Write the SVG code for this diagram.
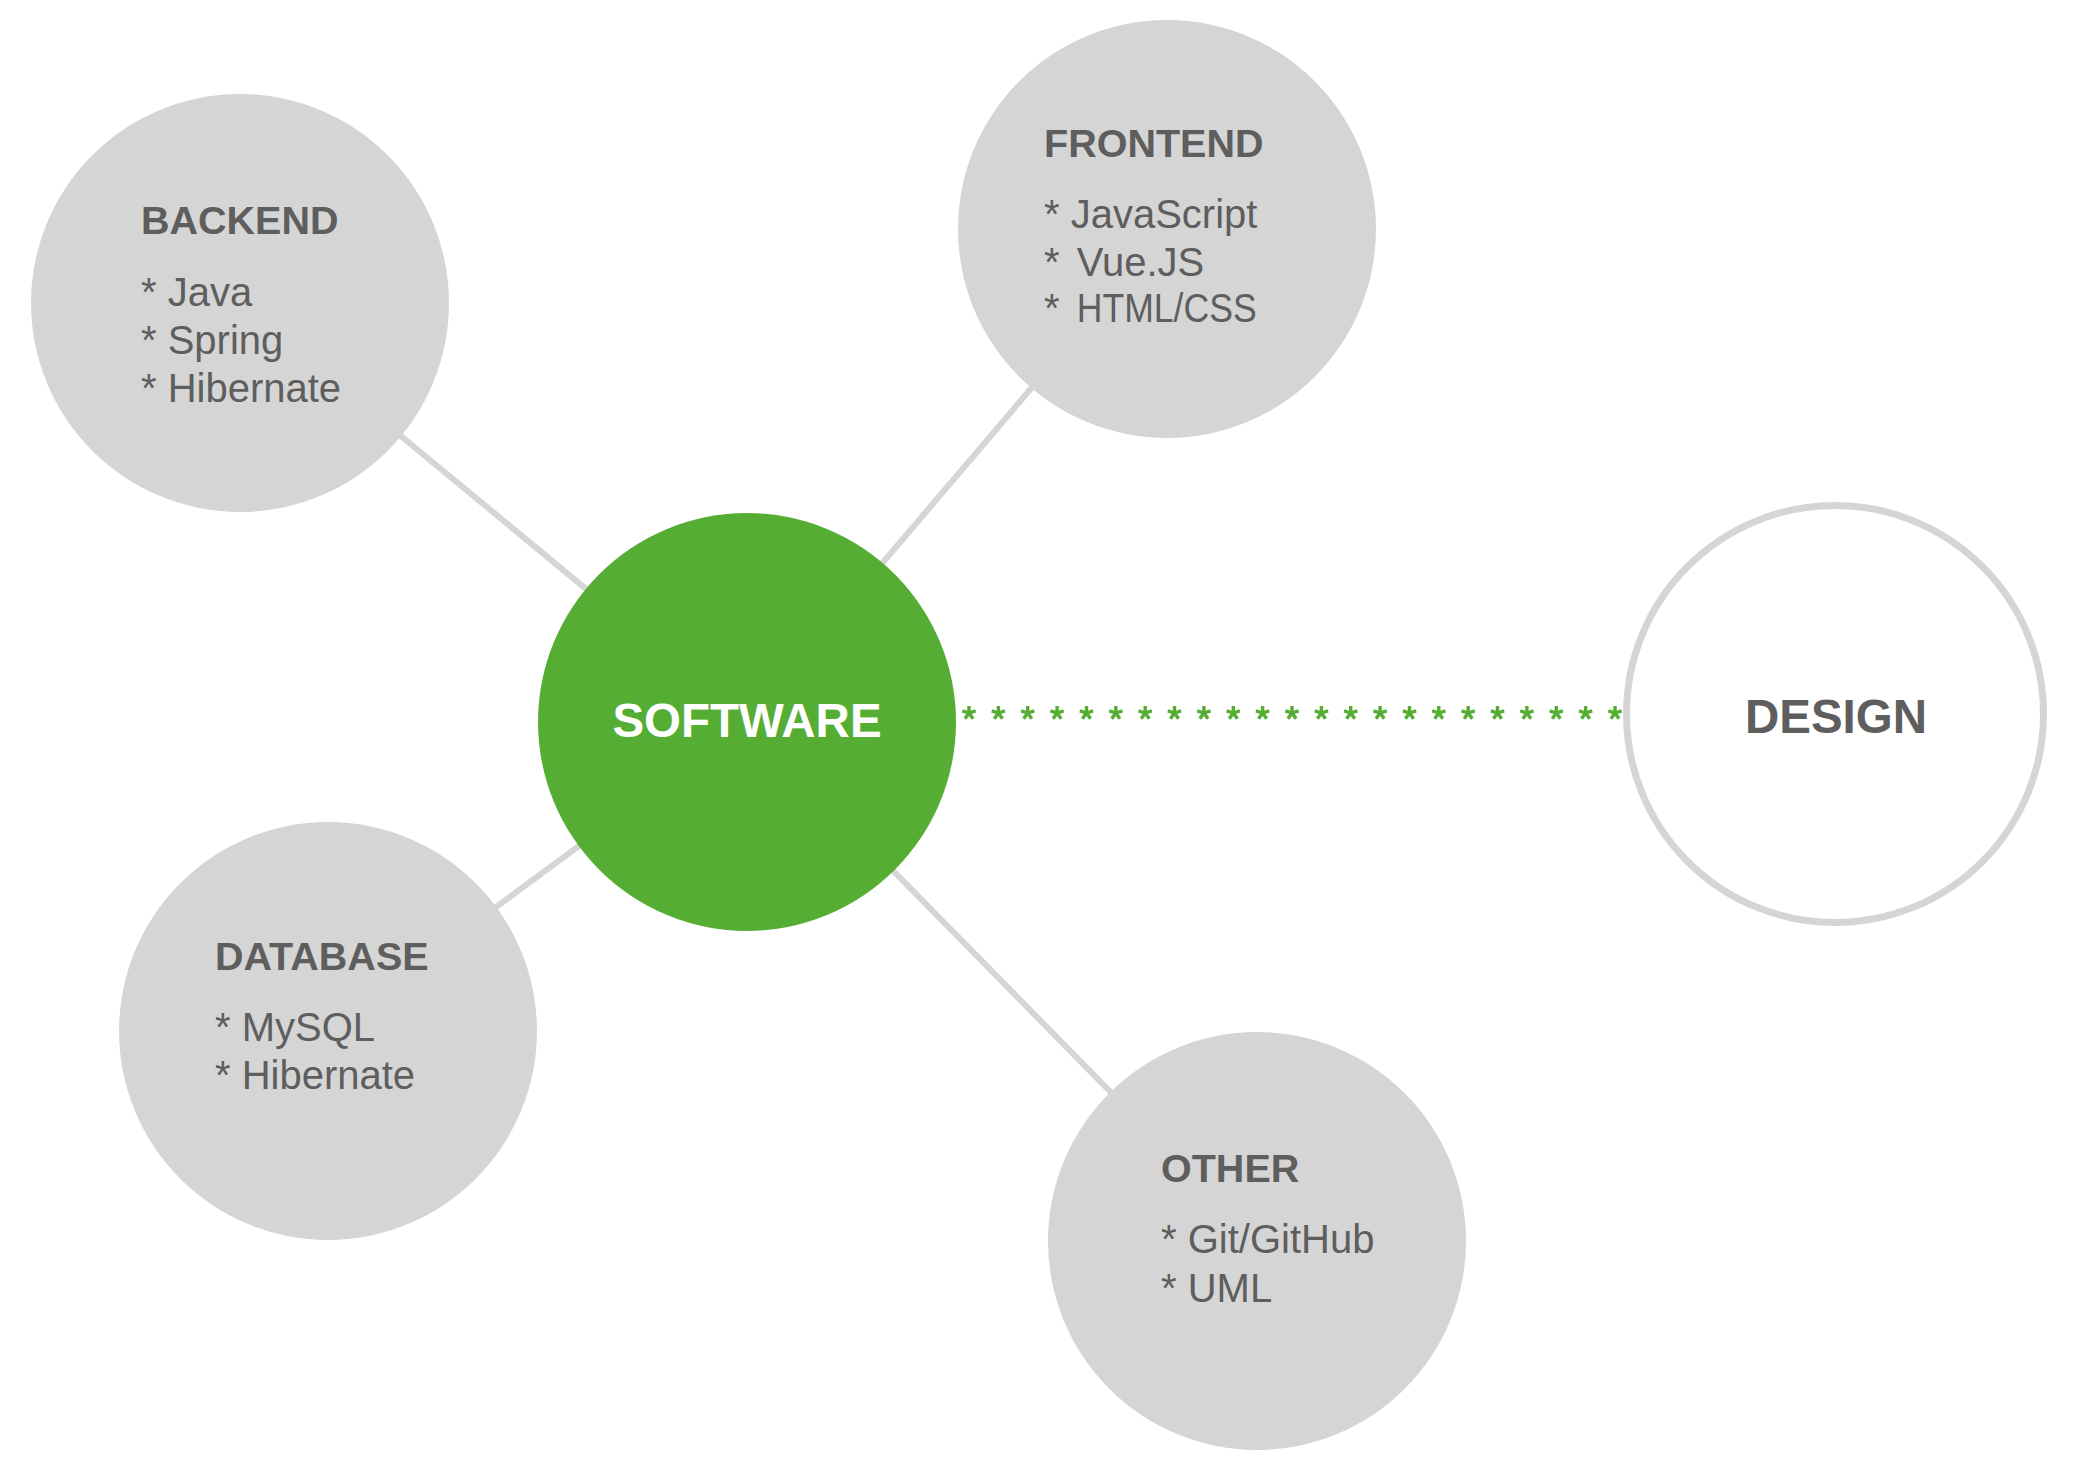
<svg xmlns="http://www.w3.org/2000/svg" xmlns:xlink="http://www.w3.org/1999/xlink" width="2078" height="1468" viewBox="0 0 2078 1468">
  <style>
    .bubble { fill: #d5d5d5; }
    .link { stroke: #d5d5d5; stroke-width: 6; fill: none; }
    .head { font-family: "Liberation Sans", Arial, Helvetica, sans-serif; font-weight: bold; font-size: 39.5px; fill: #5e5e5e; }
    .item { font-family: "Liberation Sans", Arial, Helvetica, sans-serif; font-size: 40px; fill: #5e5e5e; }
    .big { font-family: "Liberation Sans", Arial, Helvetica, sans-serif; font-weight: bold; font-size: 47.5px; text-anchor: middle; }
  </style>
  <defs>
    <path id="star" d="M0,0 L0,-7 M0,0 L6.7,-2.2 M0,0 L4.1,5.7 M0,0 L-4.1,5.7 M0,0 L-6.7,-2.2" stroke="#55ad34" stroke-width="3.4" fill="none"/>
  </defs>
  <rect width="2078" height="1468" fill="#ffffff"/>

  <g id="connectors">
    <line class="link" x1="747" y1="722" x2="240" y2="303"/>
    <line class="link" x1="747" y1="722" x2="1167" y2="229"/>
    <line class="link" x1="747" y1="722" x2="328" y2="1031"/>
    <line class="link" x1="747" y1="722" x2="1257" y2="1241"/>
    <g id="dotted-link">
      <use xlink:href="#star" x="969" y="713"/>
      <use xlink:href="#star" x="998.4" y="713"/>
      <use xlink:href="#star" x="1027.7" y="713"/>
      <use xlink:href="#star" x="1057.1" y="713"/>
      <use xlink:href="#star" x="1086.5" y="713"/>
      <use xlink:href="#star" x="1115.8" y="713"/>
      <use xlink:href="#star" x="1145.2" y="713"/>
      <use xlink:href="#star" x="1174.5" y="713"/>
      <use xlink:href="#star" x="1203.9" y="713"/>
      <use xlink:href="#star" x="1233.3" y="713"/>
      <use xlink:href="#star" x="1262.6" y="713"/>
      <use xlink:href="#star" x="1292" y="713"/>
      <use xlink:href="#star" x="1321.4" y="713"/>
      <use xlink:href="#star" x="1350.7" y="713"/>
      <use xlink:href="#star" x="1380.1" y="713"/>
      <use xlink:href="#star" x="1409.5" y="713"/>
      <use xlink:href="#star" x="1438.8" y="713"/>
      <use xlink:href="#star" x="1468.2" y="713"/>
      <use xlink:href="#star" x="1497.5" y="713"/>
      <use xlink:href="#star" x="1526.9" y="713"/>
      <use xlink:href="#star" x="1556.3" y="713"/>
      <use xlink:href="#star" x="1585.6" y="713"/>
      <use xlink:href="#star" x="1615" y="713"/>
    </g>
  </g>

  <g id="backend">
    <circle class="bubble" cx="240" cy="303" r="209"/>
    <text class="head" x="141" y="234">BACKEND</text>
    <text class="item" x="141" y="306">* Java</text>
    <text class="item" x="141" y="354">* Spring</text>
    <text class="item" x="141" y="402">* Hibernate</text>
  </g>

  <g id="frontend">
    <circle class="bubble" cx="1167" cy="229" r="209"/>
    <text class="head" x="1044" y="157">FRONTEND</text>
    <text class="item" x="1044" y="228">* JavaScript</text>
    <text class="item" x="1044" y="275.5">* <tspan dx="6">Vue.JS</tspan></text>
    <text class="item" x="1044" y="322">* <tspan dx="6" textLength="180" lengthAdjust="spacingAndGlyphs">HTML/CSS</tspan></text>
  </g>

  <g id="software">
    <circle cx="747" cy="722" r="209" fill="#55ad34"/>
    <text class="big" x="747" y="737" fill="#ffffff">SOFTWARE</text>
  </g>

  <g id="design">
    <circle cx="1835" cy="714" r="208.5" fill="#ffffff" stroke="#d5d5d5" stroke-width="7"/>
    <text class="big" x="1836" y="733" fill="#5e5e5e">DESIGN</text>
  </g>

  <g id="database">
    <circle class="bubble" cx="328" cy="1031" r="209"/>
    <text class="head" x="215" y="970">DATABASE</text>
    <text class="item" x="215" y="1041">* MySQL</text>
    <text class="item" x="215" y="1089">* Hibernate</text>
  </g>

  <g id="other">
    <circle class="bubble" cx="1257" cy="1241" r="209"/>
    <text class="head" x="1161" y="1182">OTHER</text>
    <text class="item" x="1161" y="1253">* Git/GitHub</text>
    <text class="item" x="1161" y="1301.5">* UML</text>
  </g>
</svg>
